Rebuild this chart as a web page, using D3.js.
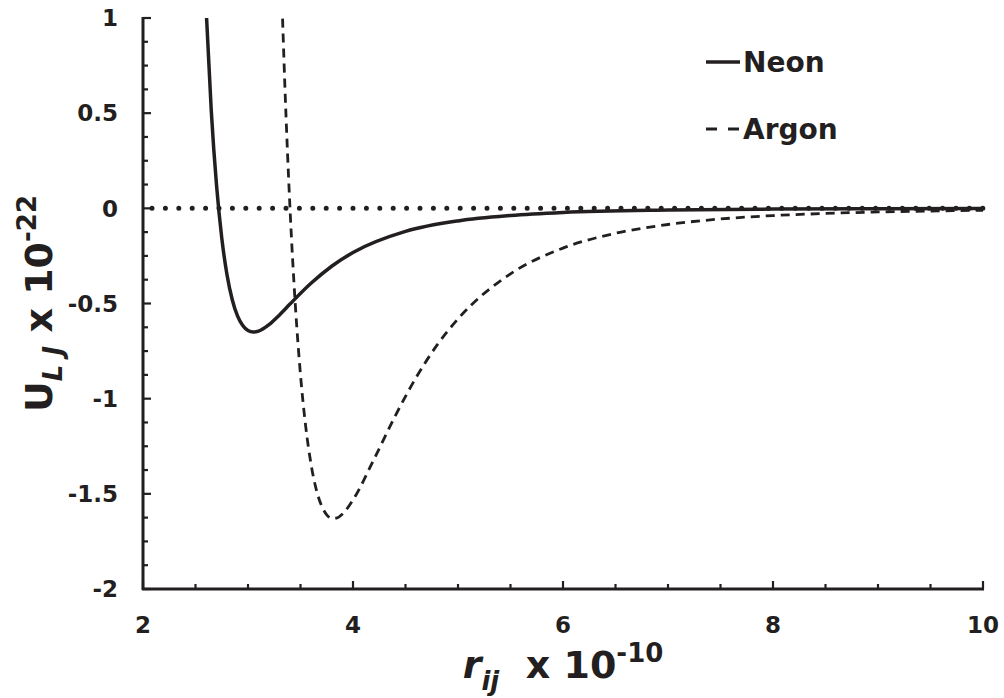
<!DOCTYPE html>
<html><head><meta charset="utf-8">
<script src="https://cdn.jsdelivr.net/npm/d3@7"></script>
<style>body{margin:0;background:#fff}svg{display:block}</style>
</head><body>
<script>
// Data (r in units of 1e-10, U in units of 1e-22)
const neonR = [2.60,2.65,2.70,2.75,2.80,2.85,2.90,2.95,3.00,3.05,3.10,3.20,3.30,3.40,3.60,3.80,4.00,4.50,5.00,5.50,6.00,7.00,8.00,9.00,10.00];
const neonU = [1.06,0.515,0.123,-0.155,-0.349,-0.480,-0.565,-0.616,-0.642,-0.650,-0.645,-0.611,-0.560,-0.503,-0.394,-0.303,-0.232,-0.121,-0.066,-0.038,-0.022,-0.009,-0.004,-0.002,-0.001];
const argonR = [3.32,3.35,3.40,3.45,3.50,3.55,3.60,3.65,3.70,3.75,3.80,3.85,3.90,4.00,4.20,4.40,4.60,4.80,5.00,5.50,6.00,6.50,7.00,7.50,8.00,8.50,9.00,9.50,10.00];
const argonU = [1.155,0.662,0.0,-0.501,-0.875,-1.148,-1.343,-1.477,-1.562,-1.610,-1.629,-1.626,-1.606,-1.532,-1.318,-1.093,-0.890,-0.719,-0.581,-0.344,-0.209,-0.131,-0.085,-0.056,-0.038,-0.027,-0.019,-0.014,-0.010];
const zeroR = [2, 10];
const zeroU = [0, 0];
const xTicks = [2,4,6,8,10];
const yTicks = [1,0.5,0,-0.5,-1,-1.5,-2];
const seriesNames = ["Neon","Argon"];

const W = 1004, H = 698;
const m = {left:143, right:21, top:18, bottom:109};
const FONT = "'DejaVu Sans', Verdana, sans-serif";

const svg = d3.select("body").append("svg").attr("width",W).attr("height",H);
const x = d3.scaleLinear().domain([2,10]).range([m.left, W-m.right]);
const y = d3.scaleLinear().domain([-2,1]).range([H-m.bottom, m.top]);

svg.append("defs").append("clipPath").attr("id","clip")
  .append("rect").attr("x",x(2)).attr("y",y(1)).attr("width",x(10)-x(2)).attr("height",y(-2)-y(1));

const line = d3.line().x(d=>x(d[0])).y(d=>y(d[1])).curve(d3.curveMonotoneX);
const plot = svg.append("g").attr("clip-path","url(#clip)");

// zero dotted line
svg.append("path").datum(d3.zip(zeroR, zeroU)).attr("d", line)
  .attr("fill","none").attr("stroke","#231f20").attr("stroke-width",5)
  .attr("stroke-linecap","round").attr("stroke-dasharray","0,13.4").attr("stroke-dashoffset",-9);

plot.append("path").datum(d3.zip(argonR, argonU)).attr("d", line)
  .attr("fill","none").attr("stroke","#231f20").attr("stroke-width",2.8)
  .attr("stroke-dasharray","9,6");
plot.append("path").datum(d3.zip(neonR, neonU)).attr("d", line)
  .attr("fill","none").attr("stroke","#231f20").attr("stroke-width",3.5);

// axes
const xMinor = d3.range(2, 10.001, 0.5);
const yMinor = d3.range(-2, 1.001, 0.125);
const axG = svg.append("g").attr("stroke","#231f20");
axG.append("line").attr("x1",x(2)-1).attr("x2",x(10)+1).attr("y1",y(-2)).attr("y2",y(-2)).attr("stroke-width",3);
axG.append("line").attr("x1",x(2)).attr("x2",x(2)).attr("y1",y(-2)+1).attr("y2",y(1)-1).attr("stroke-width",3);
axG.selectAll(".xt").data(xMinor).join("line")
  .attr("x1",d=>x(d)).attr("x2",d=>x(d)).attr("y1",y(-2))
  .attr("y2",d=>y(-2) - (xTicks.includes(d)?8:5)).attr("stroke-width",2.2);
axG.selectAll(".yt").data(yMinor).join("line")
  .attr("y1",d=>y(d)).attr("y2",d=>y(d)).attr("x1",x(2))
  .attr("x2",d=>x(2) + (yTicks.includes(d)?8:5)).attr("stroke-width",2.2);

const txt = svg.append("g").attr("font-family",FONT).attr("font-weight","bold").attr("fill","#231f20");
txt.selectAll(".xl").data(xTicks).join("text")
  .attr("x",d=>x(d)).attr("y",633).attr("text-anchor","middle").attr("font-size",23).text(d=>d);
txt.selectAll(".yl").data(yTicks).join("text")
  .attr("x",118).attr("y",d=>y(d)).attr("dy","0.36em").attr("text-anchor","end").attr("font-size",23).text(d=>d);

// x title
const xt = txt.append("text").attr("x",(x(2)+x(10))/2).attr("y",678).attr("text-anchor","middle").attr("font-size",38);
xt.append("tspan").attr("font-style","italic").text("r");
xt.append("tspan").attr("font-style","italic").attr("font-size",26).attr("dy",12).text("ij");
xt.append("tspan").attr("dy",-12).text("\u00a0 x 10");
xt.append("tspan").attr("font-size",26).attr("dy",-16).text("-10");

// y title
const yt = txt.append("text").attr("transform",`translate(52,${(y(1)+y(-2))/2}) rotate(-90)`)
  .attr("text-anchor","middle").attr("font-size",38);
yt.append("tspan").text("U");
yt.append("tspan").attr("font-style","italic").attr("font-size",26).attr("dy",10).text("L J");
yt.append("tspan").attr("dy",-10).text(" x 10");
yt.append("tspan").attr("font-size",26).attr("dy",-16).text("-22");

// legend
const leg = svg.append("g");
const legY = [62, 129];
leg.append("line").attr("x1",706).attr("x2",740).attr("y1",legY[0]).attr("y2",legY[0]).attr("stroke","#231f20").attr("stroke-width",3.5);
leg.append("line").attr("x1",706).attr("x2",740).attr("y1",legY[1]).attr("y2",legY[1]).attr("stroke","#231f20").attr("stroke-width",2.8).attr("stroke-dasharray","11,11");
txt.selectAll(".lg").data(seriesNames).join("text")
  .attr("x",743).attr("y",(d,i)=>legY[i]).attr("dy","0.36em").attr("font-size",28).text(d=>d);
</script>
</body></html>
